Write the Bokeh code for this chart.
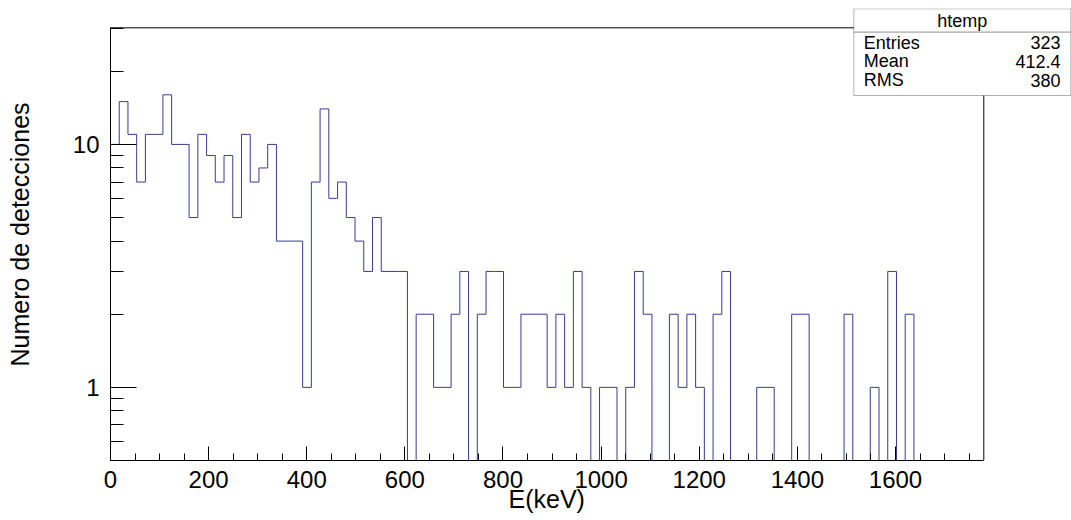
import numpy as np
from bokeh.plotting import figure
from bokeh.models import FixedTicker, Label, BoxAnnotation, Range1d, BasicTickFormatter, Title
from bokeh.embed import file_html
from bokeh.resources import INLINE

# ---------------- data ----------------
X_LOW, X_HIGH = 0.0, 1780.0
Y_LOW, Y_HIGH = 0.5, 30.2

counts = [10, 15, 11, 7, 11, 11, 16, 10, 10, 5,
          11, 9, 7, 9, 5, 11, 7, 8, 10, 4,
          4, 4, 1, 7, 14, 6, 7, 5, 4, 3,
          5, 3, 3, 3, 0, 2, 2, 1, 1, 2,
          3, 0, 2, 3, 3, 1, 1, 2, 2, 2,
          1, 2, 1, 3, 1, 0, 1, 1, 0, 1,
          3, 2, 0, 0, 2, 1, 2, 1, 0, 2,
          3, 0, 0, 0, 1, 1, 0, 0, 2, 2,
          0, 0, 0, 0, 2, 0, 0, 1, 0, 3,
          0, 2, 0, 0, 0, 0, 0, 0, 0, 0]

x_major_ticks = [0, 200, 400, 600, 800, 1000, 1200, 1400, 1600]
x_minor_ticks = list(range(0, 1800, 50))
y_major_ticks = [1, 10]
y_minor_ticks = [0.5, 0.6, 0.7, 0.8, 0.9, 2, 3, 4, 5, 6, 7, 8, 9, 20, 30]

x_title = "E(keV)"
y_title = "Numero de detecciones"
stats_title = "htemp"
stats_names = ["Entries", "Mean", "RMS"]
stats_values = ["323", "412.4", "380"]

FONT = "Liberation Sans"

# ---------------- layout (pixels) ----------------
FIG_W, FIG_H = 1071, 520
FRAME_L, FRAME_T, FRAME_B = 110, 8, 460     # drawing frame reaches the right edge
HIST_R, HIST_T = 983.3, 27.3                # where the histogram box ends

frac_x = (FIG_W - FRAME_L) / (HIST_R - FRAME_L)
x_view_high = X_LOW + (X_HIGH - X_LOW) * frac_x
frac_y = (FRAME_B - FRAME_T) / (FRAME_B - HIST_T)
y_view_high = 10 ** (np.log10(Y_LOW) + (np.log10(Y_HIGH) - np.log10(Y_LOW)) * frac_y)

# ---------------- histogram outline ----------------
edges = np.linspace(X_LOW, X_HIGH, len(counts) + 1)
xs = np.repeat(edges, 2)[1:-1]
ys = np.repeat(np.maximum(np.array(counts, dtype=float), Y_LOW), 2)

p = figure(width=FIG_W, height=FIG_H, y_axis_type="log",
           x_range=Range1d(X_LOW, x_view_high), y_range=Range1d(Y_LOW, y_view_high),
           output_backend="svg", toolbar_location=None,
           min_border_left=FRAME_L, min_border_right=0,
           min_border_top=FRAME_T, min_border_bottom=FIG_H - FRAME_B)

p.line(xs, ys, line_color="#3a3a92", line_width=1)
# top and right edges of the histogram box
p.line([X_LOW, X_HIGH, X_HIGH], [Y_HIGH, Y_HIGH, Y_LOW], line_color="black", line_width=1)

p.xgrid.visible = False
p.ygrid.visible = False
p.outline_line_color = None
p.background_fill_color = "white"
p.border_fill_color = "white"

# x axis
xa = p.xaxis[0]
xa.bounds = (X_LOW, X_HIGH)
xa.ticker = FixedTicker(ticks=x_major_ticks, minor_ticks=x_minor_ticks)
xa.major_tick_in = 14
xa.major_tick_out = 0
xa.minor_tick_in = 7
xa.minor_tick_out = 0
xa.axis_line_color = "black"
xa.major_tick_line_color = "black"
xa.minor_tick_line_color = "black"
xa.major_label_text_font = FONT
xa.major_label_text_font_size = "24px"
xa.major_label_text_color = "black"
xa.major_label_standoff = 10

p.add_layout(Title(text=x_title, align="left", offset=398, standoff=-15,
                   text_font=FONT, text_font_size="25px", text_font_style="normal",
                   text_color="black"), "below")

# y axis
ya = p.yaxis[0]
ya.bounds = (Y_LOW, Y_HIGH)
ya.ticker = FixedTicker(ticks=y_major_ticks, minor_ticks=y_minor_ticks)
ya.formatter = BasicTickFormatter()
ya.major_tick_in = 26
ya.major_tick_out = 0
ya.minor_tick_in = 13
ya.minor_tick_out = 0
ya.axis_line_color = "black"
ya.major_tick_line_color = "black"
ya.minor_tick_line_color = "black"
ya.major_label_text_font = FONT
ya.major_label_text_font_size = "24px"
ya.major_label_text_color = "black"
ya.major_label_standoff = 11
ya.axis_label = y_title
ya.axis_label_text_font = FONT
ya.axis_label_text_font_size = "25px"
ya.axis_label_text_font_style = "normal"
ya.axis_label_text_color = "black"
ya.axis_label_standoff = 36

# ---------------- stats box (screen units, relative to frame) ----------------
def rel_x(px):
    return px - FRAME_L

def rel_y(py):
    return FRAME_B - py

box_left, box_right = rel_x(853.3), rel_x(1070.3)
box_top, box_sep, box_bottom = rel_y(8.3), rel_y(31.7), rel_y(95.0)
for top, bottom in [(box_top, box_sep), (box_sep, box_bottom)]:
    p.add_layout(BoxAnnotation(left=box_left, right=box_right, top=top, bottom=bottom,
                               left_units="screen", right_units="screen",
                               top_units="screen", bottom_units="screen",
                               fill_color="white", fill_alpha=1.0,
                               line_color="black", line_width=1, level="overlay"))

p.add_layout(Label(x=rel_x(961.7), y=rel_y(20.0), x_units="screen", y_units="screen",
                   text=stats_title, text_font=FONT, text_font_size="18px",
                   text_align="center", text_baseline="alphabetic",
                   text_color="black", level="overlay"))
row_baselines = [42.3, 60.7, 79.7]
for name, val, yb in zip(stats_names, stats_values, row_baselines):
    p.add_layout(Label(x=rel_x(863.3), y=rel_y(yb), x_units="screen", y_units="screen",
                       text=name, text_font=FONT, text_font_size="18px",
                       text_align="left", text_baseline="alphabetic",
                       text_color="black", level="overlay"))
    p.add_layout(Label(x=rel_x(1060.0), y=rel_y(yb), x_units="screen", y_units="screen",
                       text=val, text_font=FONT, text_font_size="18px",
                       text_align="right", text_baseline="alphabetic",
                       text_color="black", level="overlay"))

open("out.html", "w").write(file_html(p, INLINE))
